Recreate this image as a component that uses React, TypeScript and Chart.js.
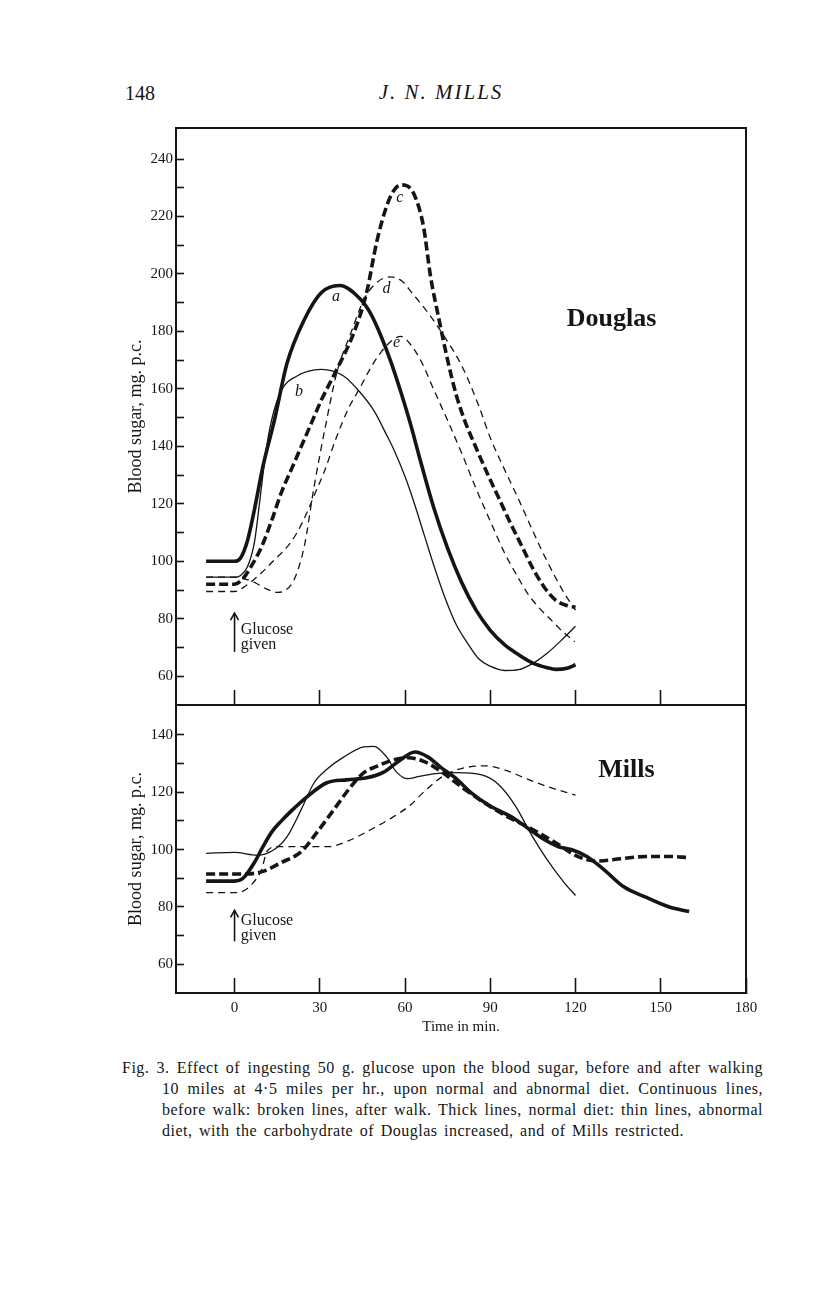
import React, { useEffect, useRef } from 'react';
import { Chart, registerables } from 'chart.js';

Chart.register(...registerables);

const SERIF = '"Liberation Serif", "Times New Roman", serif';
const INK = '#151515';

// ---------- axes ----------
const X_MIN = -20.6;
const X_MAX = 180;
const TOP_Y_MIN = 50;
const TOP_Y_MAX = 250.8;
const BOT_Y_MIN = 50;
const BOT_Y_MAX = 150.4;
const topXTicks = [0, 30, 60, 90, 120, 150];
const bottomXTicks = [0, 30, 60, 90, 120, 150, 180];
const topYTicks = [60, 70, 80, 90, 100, 110, 120, 130, 140, 150, 160, 170, 180, 190, 200, 210, 220, 230, 240];
const bottomYTicks = [60, 70, 80, 90, 100, 110, 120, 130, 140];

// ---------- Douglas (upper panel) ----------
// a: thick continuous (normal diet, before walk)
const douglasAMin = [-10, 0, 2, 4.5, 7, 10, 14, 18.5, 24.5, 30.5, 37, 44.5, 48, 51.5, 55, 58.5, 62, 65, 70, 75, 80, 85, 90, 95, 100, 105, 110, 113, 117, 120];
const douglasASugar = [100, 100, 101, 107, 118, 133, 149, 169, 184, 193.5, 196, 191, 186, 178.5, 169.5, 159, 147.5, 136.5, 119, 104.5, 92.5, 83, 76, 71, 67.5, 64.6, 63, 62.4, 62.8, 64];
// b: thin continuous (abnormal diet, before walk)
const douglasBMin = [-10, 0, 2, 4.5, 7, 9, 11, 13, 16.5, 22, 30.5, 38.5, 44, 49, 53.5, 56, 60, 63, 66.5, 70, 74, 78, 82, 86, 90, 95, 100, 105, 110, 115, 120];
const douglasBSugar = [94.5, 94.5, 95, 98, 106.6, 122, 138, 149, 159.5, 164.5, 166.8, 164.4, 159, 152.5, 144, 139, 129.5, 121, 110, 99, 87.5, 78, 71.5, 66, 63.5, 62, 62.3, 64.5, 68, 72.5, 77.4];
// c: thick broken (normal diet, after walk)
const douglasCMin = [-10, 0, 3, 6, 9.5, 13, 16.5, 20, 23.5, 27, 30.5, 36, 42, 46.5, 50, 53.5, 56, 58.5, 61, 63.5, 66.5, 69, 72, 75, 78, 81, 85, 89, 93, 97, 101, 105, 109, 113, 117, 120];
const douglasCSugar = [92, 92, 94, 98.5, 105, 114, 124, 132, 140, 148, 156, 166.8, 179.6, 193.6, 211, 223.5, 229, 231, 230.5, 227, 216.5, 199, 184, 170, 158, 149, 139.5, 130.5, 122, 113.5, 105.5, 97.5, 91, 86.5, 84.6, 84];
// d: thin broken, sharp rise
const douglasDMin = [-10, 0, 3, 7, 11, 15, 18, 21, 24.5, 28, 32, 36, 41, 45.5, 50, 55, 59, 62.3, 68, 74, 80, 86, 90, 95, 100, 105, 110, 116, 120];
const douglasDSugar = [94.5, 94.5, 94, 92.7, 90.5, 89.2, 90, 93.7, 105, 126, 147, 165.7, 179.6, 191, 197, 199, 197.5, 193.6, 186.6, 178, 168, 154, 143, 132, 121.5, 110.5, 100, 89, 83];
// e: thin broken, gradual rise
const douglasEMin = [-10, 0, 4, 9.5, 14, 18.5, 22, 25.5, 28.5, 31.5, 36, 40, 44.5, 48, 51.5, 55, 58.5, 62.3, 66, 70, 75, 80, 84.7, 90, 95, 100, 103, 107, 111, 115, 119.7];
const douglasESugar = [89.5, 89.5, 91.5, 96, 100.5, 105, 110, 117, 124, 131, 143.5, 153, 161, 167.5, 172.7, 176.5, 178.3, 175, 169, 160, 149, 137.5, 126, 114, 103, 94, 89, 84, 80, 76, 72];

// ---------- Mills (lower panel) ----------
const millsNormalBeforeMin = [-10, 0, 3, 7, 10, 13, 16.5, 20, 25.5, 32.5, 39.5, 46.5, 52.5, 58, 63.5, 68, 72.8, 77.7, 83.3, 90.3, 97.3, 103, 109, 114, 118.5, 124, 130, 137, 145, 153, 160];
const millsNormalBeforeSugar = [89, 89, 90, 95.5, 101, 106, 110, 113.5, 118.4, 123.3, 124.3, 125, 127, 131, 134, 132.3, 128.5, 125, 119.8, 115, 111.5, 107.6, 103.5, 101, 100, 97.6, 93, 87, 83.3, 80, 78.4];
const millsNormalAfterMin = [-10, 0, 4, 10, 16.5, 23.5, 29, 35, 41, 45.5, 50, 56, 61, 67, 73, 81, 89, 96, 104, 108, 113, 120, 127, 136, 145, 153, 160];
const millsNormalAfterSugar = [91.5, 91.5, 91.5, 92.4, 95.5, 99.3, 106, 114, 122, 126.8, 129, 131.3, 132, 130.6, 127, 121, 115.6, 111.5, 107.5, 105.3, 102.4, 98, 96, 96.8, 97.6, 97.6, 97.2];
const millsAbnormalBeforeMin = [-10, 0, 8, 14, 18.5, 23.5, 28, 32.5, 38.5, 45.5, 49, 53.5, 57, 61, 65, 70, 78, 87, 93, 99, 104, 110, 116, 120];
const millsAbnormalBeforeSugar = [98.7, 99, 98, 100, 104.5, 114, 123.3, 128, 132.3, 135.8, 136, 132.3, 127, 124.7, 125.5, 126.4, 126.8, 126, 122.6, 115, 106, 96.5, 88.5, 84];
const millsAbnormalAfterMin = [-10, 0, 3, 6, 9.5, 11.5, 15, 25, 33, 40, 48, 56, 62, 66, 74, 81, 88, 95, 102, 110, 120];
const millsAbnormalAfterSugar = [85, 85, 85.5, 87.8, 93, 99.5, 101, 101, 101, 103, 107, 111.5, 115.6, 119.5, 126, 128.5, 129.2, 127.8, 125, 122, 119];

// ---------- caption ----------
const captionLines = [
  'Fig. 3.  Effect of ingesting 50 g. glucose upon the blood sugar, before and after walking',
  '10 miles at 4·5 miles per hr., upon normal and abnormal diet.  Continuous lines,',
  'before walk: broken lines, after walk. Thick lines, normal diet: thin lines, abnormal',
  'diet, with the carbohydrate of Douglas increased, and of Mills restricted.',
];
const captionLeft = [122, 162, 162, 162];
const captionRight = [763, 763, 763, 684];

const zip = (xs: number[], ys: number[]) => xs.map((x, i) => ({ x, y: ys[i] }));

const THICK = 3.6;
const THIN = 1.3;
const THICK_DASH = [9, 4];
const THIN_DASH = [7, 5];

function lineSet(label: string, xs: number[], ys: number[], thick: boolean, dashed: boolean) {
  return {
    label,
    data: zip(xs, ys),
    borderColor: INK,
    backgroundColor: INK,
    borderWidth: thick ? THICK : THIN,
    borderDash: dashed ? (thick ? THICK_DASH : THIN_DASH) : [],
    pointRadius: 0,
    cubicInterpolationMode: 'monotone',
    fill: false,
    borderCapStyle: 'butt',
  };
}

type Note = { text: string; x: number; y: number; size: number; style?: string; align?: CanvasTextAlign };
type Arrow = { x: number; from: number; to: number };

function notesPlugin(notes: Note[], arrows: Arrow[]) {
  return {
    id: 'notes',
    afterDatasetsDraw(chart: any) {
      const { ctx } = chart;
      const xs = chart.scales.x;
      const ys = chart.scales.y;
      ctx.save();
      ctx.fillStyle = INK;
      ctx.strokeStyle = INK;
      for (const a of arrows) {
        const px = xs.getPixelForValue(a.x);
        const y0 = ys.getPixelForValue(a.from);
        const y1 = ys.getPixelForValue(a.to);
        ctx.lineWidth = 1.6;
        ctx.beginPath();
        ctx.moveTo(px, y0);
        ctx.lineTo(px, y1);
        ctx.stroke();
        ctx.beginPath();
        ctx.moveTo(px - 4, y1 + 7);
        ctx.lineTo(px, y1);
        ctx.lineTo(px + 4, y1 + 7);
        ctx.stroke();
      }
      for (const n of notes) {
        ctx.font = `${n.style ?? ''} ${n.size}px ${SERIF}`;
        ctx.textAlign = n.align ?? 'center';
        ctx.textBaseline = 'middle';
        ctx.fillText(n.text, xs.getPixelForValue(n.x), ys.getPixelForValue(n.y));
      }
      ctx.restore();
    },
  };
}

const noPad = (s: any) => {
  s.paddingTop = 0;
  s.paddingBottom = 0;
  s.paddingLeft = 0;
  s.paddingRight = 0;
};

function buildScales(o: { yMin: number; yMax: number; yTicks: number[]; xTicks: number[]; xLabels: boolean; xHeight: number }) {
  return {
    x: {
      type: 'linear',
      position: 'bottom',
      min: X_MIN,
      max: X_MAX,
      afterBuildTicks: (s: any) => {
        s.ticks = o.xTicks.map((v) => ({ value: v }));
      },
      afterFit: (s: any) => {
        s.height = o.xHeight;
        noPad(s);
      },
      grid: { drawOnChartArea: false, drawTicks: true, tickLength: -15, tickWidth: 1.6, tickColor: INK, color: INK },
      border: { display: true, width: 2, color: INK },
      ticks: {
        display: o.xLabels,
        padding: 21,
        color: INK,
        font: { family: SERIF, size: 15 },
        maxRotation: 0,
        autoSkip: false,
        callback: (v: any) => String(v),
      },
      title: {
        display: o.xLabels,
        text: 'Time in min.',
        color: INK,
        font: { family: SERIF, size: 15 },
        padding: { top: 0, bottom: 4 },
      },
    },
    y: {
      type: 'linear',
      position: 'left',
      min: o.yMin,
      max: o.yMax,
      afterBuildTicks: (s: any) => {
        s.ticks = o.yTicks.map((v) => ({ value: v }));
      },
      afterFit: (s: any) => {
        s.width = 86;
        noPad(s);
      },
      grid: { drawOnChartArea: false, drawTicks: true, tickLength: -8, tickWidth: 1.6, tickColor: INK, color: INK },
      border: { display: true, width: 2, color: INK },
      ticks: {
        padding: 11,
        color: INK,
        font: { family: SERIF, size: 15 },
        autoSkip: false,
        callback: (v: any) => (Number(v) % 20 === 0 ? String(v) : ''),
      },
      title: {
        display: true,
        text: 'Blood sugar, mg. p.c.',
        color: INK,
        font: { family: SERIF, size: 18 },
        padding: { top: 35, bottom: 0 },
      },
    },
    xTop: {
      type: 'linear',
      axis: 'x',
      position: 'top',
      min: X_MIN,
      max: X_MAX,
      afterFit: (s: any) => {
        s.height = 0;
        noPad(s);
      },
      grid: { display: false, drawTicks: false },
      border: { display: true, width: 2, color: INK },
      ticks: { display: false },
    },
    yRight: {
      type: 'linear',
      axis: 'y',
      position: 'right',
      min: o.yMin,
      max: o.yMax,
      afterFit: (s: any) => {
        s.width = 0;
        noPad(s);
      },
      grid: { display: false, drawTicks: false },
      border: { display: true, width: 2, color: INK },
      ticks: { display: false },
    },
  };
}

function PanelChart({ config, left, top, width, height }: { config: () => any; left: number; top: number; width: number; height: number }) {
  const ref = useRef<HTMLCanvasElement | null>(null);
  useEffect(() => {
    const chart = new Chart(ref.current as HTMLCanvasElement, config());
    return () => chart.destroy();
  }, []);
  return (
    <canvas
      ref={ref}
      width={width}
      height={height}
      style={{ position: 'absolute', left, top, width, height }}
    />
  );
}

const douglasConfig = () => ({
  type: 'line',
  data: {
    datasets: [
      lineSet('a', douglasAMin, douglasASugar, true, false),
      lineSet('b', douglasBMin, douglasBSugar, false, false),
      lineSet('c', douglasCMin, douglasCSugar, true, true),
      lineSet('d', douglasDMin, douglasDSugar, false, true),
      lineSet('e', douglasEMin, douglasESugar, false, true),
    ],
  },
  options: {
    responsive: false,
    animation: false,
    devicePixelRatio: 1,
    layout: { autoPadding: false, padding: { top: 10, right: 24, bottom: 0, left: 0 } },
    plugins: { legend: { display: false }, tooltip: { enabled: false } },
    scales: buildScales({ yMin: TOP_Y_MIN, yMax: TOP_Y_MAX, yTicks: topYTicks, xTicks: topXTicks, xLabels: false, xHeight: 13 }),
  },
  plugins: [
    notesPlugin(
      [
        { text: 'a', x: 35.7, y: 192, size: 16, style: 'italic' },
        { text: 'b', x: 22.7, y: 159, size: 16, style: 'italic' },
        { text: 'c', x: 58.2, y: 226.5, size: 16, style: 'italic' },
        { text: 'd', x: 53.5, y: 195, size: 16, style: 'italic' },
        { text: 'e', x: 57, y: 176, size: 16, style: 'italic' },
        { text: 'Douglas', x: 132.7, y: 184.2, size: 26, style: 'bold' },
        { text: 'Glucose', x: 2.2, y: 76.3, size: 16, align: 'left' },
        { text: 'given', x: 2.2, y: 70.8, size: 16, align: 'left' },
      ],
      [{ x: 0, from: 68.5, to: 82 }]
    ),
  ],
});

const millsConfig = () => ({
  type: 'line',
  data: {
    datasets: [
      lineSet('normal diet, before walk', millsNormalBeforeMin, millsNormalBeforeSugar, true, false),
      lineSet('normal diet, after walk', millsNormalAfterMin, millsNormalAfterSugar, true, true),
      lineSet('abnormal diet, before walk', millsAbnormalBeforeMin, millsAbnormalBeforeSugar, false, false),
      lineSet('abnormal diet, after walk', millsAbnormalAfterMin, millsAbnormalAfterSugar, false, true),
    ],
  },
  options: {
    responsive: false,
    animation: false,
    devicePixelRatio: 1,
    layout: { autoPadding: false, padding: { top: 5, right: 24, bottom: 0, left: 0 } },
    plugins: { legend: { display: false }, tooltip: { enabled: false } },
    scales: buildScales({ yMin: BOT_Y_MIN, yMax: BOT_Y_MAX, yTicks: bottomYTicks, xTicks: bottomXTicks, xLabels: true, xHeight: 47 }),
  },
  plugins: [
    notesPlugin(
      [
        { text: 'Mills', x: 137.9, y: 127.8, size: 26, style: 'bold' },
        { text: 'Glucose', x: 2.2, y: 75.3, size: 16, align: 'left' },
        { text: 'given', x: 2.2, y: 70, size: 16, align: 'left' },
      ],
      [{ x: 0, from: 68, to: 78.8 }]
    ),
  ],
});

export default function App() {
  const textBase: React.CSSProperties = { position: 'absolute', fontFamily: SERIF, color: INK, margin: 0 };
  return (
    <div style={{ position: 'absolute', left: 0, top: 0, width: 816, height: 1296, background: '#fff', overflow: 'hidden' }}>
      <div style={{ ...textBase, left: 125, top: 82, fontSize: 20, lineHeight: '22px' }}>148</div>
      <div style={{ ...textBase, left: 331, top: 81, width: 220, textAlign: 'center', fontSize: 21, lineHeight: '22px', fontStyle: 'italic', letterSpacing: 2 }}>
        J. N. MILLS
      </div>
      <PanelChart config={douglasConfig} left={90} top={118} width={680} height={600} />
      <PanelChart config={millsConfig} left={90} top={700} width={680} height={340} />
      {captionLines.map((line, i) => (
        <div
          key={i}
          style={{
            ...textBase,
            left: captionLeft[i],
            top: 1057 + i * 21,
            width: captionRight[i] - captionLeft[i],
            fontSize: 16,
            lineHeight: '21px',
            letterSpacing: 0.5,
            wordSpacing: -1,
            textAlign: 'justify',
            textAlignLast: 'justify',
          } as React.CSSProperties}
        >
          {line}
        </div>
      ))}
    </div>
  );
}
